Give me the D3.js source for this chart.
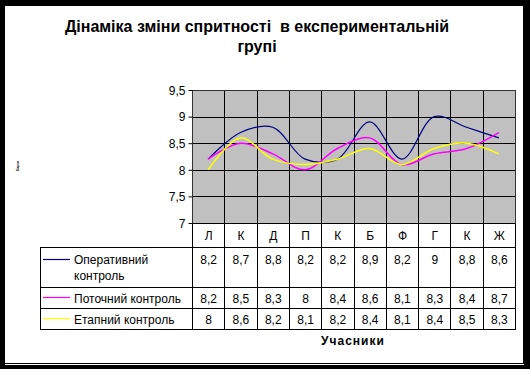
<!DOCTYPE html>
<html>
<head>
<meta charset="utf-8">
<script src="https://cdn.jsdelivr.net/npm/d3@7"></script>
<style>
  body { margin: 0; background: #000; }
  svg text { font-family: "Liberation Sans", Arial, sans-serif; }
</style>
</head>
<body>
<div id="chart"></div>
<script>
!(function () {
  // - - - data - - -
  const categories = ['Л', 'К', 'Д', 'П', 'К', 'Б', 'Ф', 'Г', 'К', 'Ж'];
  const operative = [8.2, 8.7, 8.8, 8.2, 8.2, 8.9, 8.2, 9, 8.8, 8.6];
  const current = [8.2, 8.5, 8.3, 8, 8.4, 8.6, 8.1, 8.3, 8.4, 8.7];
  const stage = [8, 8.6, 8.2, 8.1, 8.2, 8.4, 8.1, 8.4, 8.5, 8.3];
  const yTicks = [7, 7.5, 8, 8.5, 9, 9.5];

  const series = [
    { name: ['Оперативний', 'контроль'], values: operative, color: '#000080', w: 1.2 },
    { name: ['Поточний контроль'], values: current, color: '#ff00ff', w: 1.5 },
    { name: ['Етапний контроль'], values: stage, color: '#ffff00', w: 1.5 }
  ];

  let
    width = 530,
    height = 369,
    plot = { left: 192, right: 515, top: 90, bottom: 223 },
    fmt = v => String(v).replace('.', ','),
    x = d3.scaleBand()
      .domain(d3.range(categories.length))
      .range([plot.left, plot.right]),
    y = d3.scaleLinear()
      .domain([7, 9.5])
      .range([plot.bottom, plot.top]);

  const svg = d3.select('#chart')
    .append('svg')
    .attr('width', width)
    .attr('height', height);

  // frame
  svg.append('rect').attr('width', width).attr('height', height).attr('fill', '#000');
  svg.append('rect').attr('x', 5).attr('y', 6).attr('width', 518).attr('height', 357).attr('fill', '#fff');
  svg.append('rect').attr('x', 5).attr('y', 364).attr('width', 519).attr('height', 1).attr('fill', '#fff');

  // title
  const title = svg.append('text')
    .attr('x', 257)
    .attr('text-anchor', 'middle')
    .attr('xml:space', 'preserve')
    .style('font-size', '16px')
    .style('font-weight', 'bold');
  title.append('tspan').attr('x', 257).attr('y', 32).text('Дінаміка зміни спритності  в експериментальній');
  title.append('tspan').attr('x', 257).attr('y', 52).text('групі');

  // plot area
  svg.append('rect')
    .attr('x', plot.left).attr('y', plot.top)
    .attr('width', plot.right - plot.left).attr('height', plot.bottom - plot.top)
    .attr('fill', '#c0c0c0');

  svg.selectAll('.hgrid')
    .data(yTicks)
    .enter()
    .append('line')
    .attr('x1', plot.left).attr('x2', plot.right)
    .attr('y1', d => Math.round(y(d)) + 0.5).attr('y2', d => Math.round(y(d)) + 0.5)
    .attr('stroke', '#000');

  svg.selectAll('.vgrid')
    .data(d3.range(categories.length + 1))
    .enter()
    .append('line')
    .attr('x1', i => Math.round(plot.left + i * x.bandwidth()) + 0.5)
    .attr('x2', i => Math.round(plot.left + i * x.bandwidth()) + 0.5)
    .attr('y1', plot.top).attr('y2', 247)
    .attr('stroke', '#000');

  svg.append('rect')
    .attr('x', plot.left + 0.5).attr('y', plot.top + 0.5)
    .attr('width', plot.right - plot.left).attr('height', plot.bottom - plot.top)
    .attr('fill', 'none').attr('stroke', '#333');

  // y axis
  const yAxis = d3.axisLeft(y)
    .tickValues(yTicks)
    .tickSize(4)
    .tickFormat(fmt);
  const ya = svg.append('g')
    .attr('transform', 'translate(' + (plot.left + 0.5) + ',0)')
    .call(yAxis);
  ya.select('.domain').remove();
  ya.selectAll('text')
    .style('font-size', '12px')
    .style('font-family', '"Liberation Sans", Arial, sans-serif')
    .attr('fill', '#000')
    .attr('dy', '0.36em');
  ya.selectAll('line').attr('stroke', '#000');

  // tiny rotated y title remnant
  svg.append('text')
    .attr('transform', 'translate(19,166) rotate(-90)')
    .attr('text-anchor', 'middle')
    .style('font-size', '4px')
    .style('font-weight', 'bold')
    .text('Бали');

  // lines
  const line = d3.line()
    .x((d, i) => x(i) + x.bandwidth() / 2)
    .y(d => y(d))
    .curve(d3.curveCatmullRom.alpha(0.5));

  svg.selectAll('.series')
    .data(series)
    .enter()
    .append('path')
    .attr('d', d => line(d.values))
    .attr('fill', 'none')
    .attr('stroke', d => d.color)
    .attr('stroke-width', d => d.w);

  // data table
  const rows = [247, 287, 308, 329];

  // header row: category names
  svg.append('line').attr('x1', plot.left).attr('x2', plot.right + 0.5).attr('y1', plot.bottom + 0.5).attr('y2', plot.bottom + 0.5).attr('stroke', '#000');
  svg.selectAll('.cat')
    .data(categories)
    .enter()
    .append('text')
    .attr('x', (d, i) => x(i) + x.bandwidth() / 2 + 0.5)
    .attr('y', 240)
    .attr('text-anchor', 'middle')
    .style('font-size', '12px')
    .text(d => d);

  // table grid
  rows.forEach(r => {
    svg.append('line').attr('x1', 40).attr('x2', plot.right + 0.5)
      .attr('y1', r + 0.5).attr('y2', r + 0.5).attr('stroke', '#000');
  });
  svg.append('line').attr('x1', 40.5).attr('x2', 40.5).attr('y1', rows[0]).attr('y2', rows[3] + 1).attr('stroke', '#000');
  svg.selectAll('.tcol')
    .data(d3.range(categories.length + 1))
    .enter()
    .append('line')
    .attr('x1', i => Math.round(plot.left + i * x.bandwidth()) + 0.5)
    .attr('x2', i => Math.round(plot.left + i * x.bandwidth()) + 0.5)
    .attr('y1', rows[0]).attr('y2', rows[3] + 1)
    .attr('stroke', '#000');

  series.forEach((s, k) => {
    const top = rows[k];
    const base = top + 16;
    const ly = k === 0 ? top + 12.5 : top + 10.5;
    svg.append('line')
      .attr('x1', 43).attr('x2', 70)
      .attr('y1', ly).attr('y2', ly)
      .attr('stroke', s.color).attr('stroke-width', 1.2);
    const t = svg.append('text').style('font-size', '12px');
    s.name.forEach((n, j) => {
      t.append('tspan').attr('x', 74).attr('y', (k === 0 ? top + 17 : base) + j * 16).text(n);
    });
    svg.selectAll('.v' + k)
      .data(s.values)
      .enter()
      .append('text')
      .attr('x', (d, i) => x(i) + x.bandwidth() / 2 + 0.5)
      .attr('y', k === 0 ? top + 17 : base)
      .attr('text-anchor', 'middle')
      .style('font-size', '12px')
      .text(d => fmt(d));
  });

  // x axis title
  svg.append('text')
    .attr('x', 353)
    .attr('y', 345)
    .attr('text-anchor', 'middle')
    .style('font-size', '12px')
    .style('font-weight', 'bold')
    .style('letter-spacing', '1px')
    .text('Учасники');

  // - - - - - - - - - -
}());
</script>
</body>
</html>
